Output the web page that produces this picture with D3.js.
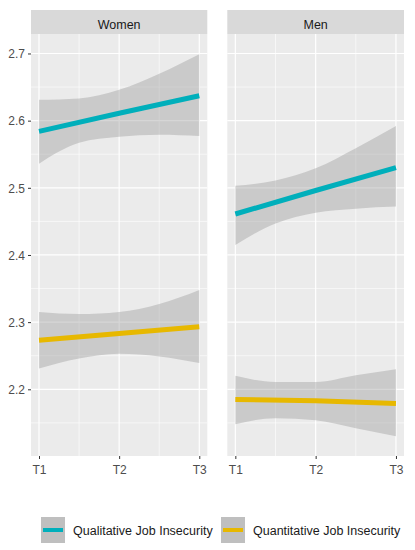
<!DOCTYPE html>
<html>
<head>
<meta charset="utf-8">
<script src="https://cdn.jsdelivr.net/npm/d3@7"></script>
<style>
body{margin:0;background:#fff;}
text{font-family:"Liberation Sans",Arial,sans-serif;}
</style>
</head>
<body>
<svg id="chart" width="415" height="550"></svg>
<script>
// ---- data ----
const panels = ["Women", "Men"];
const timeLabels = ["T1", "T2", "T3"];
const timeValues = [1, 2, 3];
const bandX = [1, 1.5, 2, 2.5, 3];
const seriesNames = ["Qualitative Job Insecurity", "Quantitative Job Insecurity"];
const seriesColors = ["#00AFBB", "#E7B800"];
const yTicks = [2.2, 2.3, 2.4, 2.5, 2.6, 2.7];
const yMinor = [2.15, 2.25, 2.35, 2.45, 2.55, 2.65];

const womenQualFit = [2.584, 2.611, 2.637];
const womenQuantFit = [2.273, 2.283, 2.293];
const menQualFit = [2.461, 2.496, 2.530];
const menQuantFit = [2.185, 2.183, 2.179];

const womenQualUpper = [2.631, 2.633, 2.646, 2.670, 2.699];
const womenQualLower = [2.536, 2.567, 2.576, 2.579, 2.577];
const womenQuantUpper = [2.315, 2.312, 2.315, 2.327, 2.348];
const womenQuantLower = [2.231, 2.246, 2.253, 2.249, 2.239];
const menQualUpper = [2.503, 2.511, 2.529, 2.559, 2.592];
const menQualLower = [2.415, 2.447, 2.463, 2.469, 2.472];
const menQuantUpper = [2.220, 2.211, 2.211, 2.221, 2.230];
const menQuantLower = [2.148, 2.157, 2.154, 2.142, 2.130];

const panelData = {
  Women: [
    {fit: womenQualFit, upper: womenQualUpper, lower: womenQualLower},
    {fit: womenQuantFit, upper: womenQuantUpper, lower: womenQuantLower}
  ],
  Men: [
    {fit: menQualFit, upper: menQualUpper, lower: menQualLower},
    {fit: menQuantFit, upper: menQuantUpper, lower: menQuantLower}
  ]
};

// ---- layout ----
const svg = d3.select("#chart");
const panelTop = 34, panelBottom = 456, stripTop = 10;
const panelX = [[31, 207.3], [227.3, 404]];

const y = d3.scaleLinear().domain([2.1007, 2.729]).range([panelBottom, panelTop]);

panels.forEach((p, pi) => {
  const [x0, x1] = panelX[pi];
  const x = d3.scaleLinear().domain([0.9, 3.1]).range([x0, x1]);
  const g = svg.append("g");
  // background
  g.append("rect").attr("x", x0).attr("y", panelTop).attr("width", x1 - x0).attr("height", panelBottom - panelTop).attr("fill", "#EBEBEB");
  // strip
  g.append("rect").attr("x", x0).attr("y", stripTop).attr("width", x1 - x0).attr("height", panelTop - stripTop).attr("fill", "#D9D9D9");
  g.append("text").attr("x", (x0 + x1) / 2).attr("y", 28.8).attr("text-anchor", "middle")
    .attr("font-size", 12.5).attr("fill", "#1A1A1A").text(p);
  // minor grid
  yMinor.forEach(v => g.append("line").attr("x1", x0).attr("x2", x1).attr("y1", y(v)).attr("y2", y(v)).attr("stroke", "#fff").attr("stroke-width", 0.6));
  [1.5, 2.5].forEach(v => g.append("line").attr("x1", x(v)).attr("x2", x(v)).attr("y1", panelTop).attr("y2", panelBottom).attr("stroke", "#fff").attr("stroke-width", 0.6));
  // major grid
  yTicks.forEach(v => g.append("line").attr("x1", x0).attr("x2", x1).attr("y1", y(v)).attr("y2", y(v)).attr("stroke", "#fff").attr("stroke-width", 1.2));
  timeValues.forEach(v => g.append("line").attr("x1", x(v)).attr("x2", x(v)).attr("y1", panelTop).attr("y2", panelBottom).attr("stroke", "#fff").attr("stroke-width", 1.2));

  // smooths
  const area = d3.area().x((d, i) => x(bandX[i])).y0(d => y(d[0])).y1(d => y(d[1])).curve(d3.curveMonotoneX);
  const line = d3.line().x((d, i) => x(timeValues[i])).y(d => y(d));
  panelData[p].forEach((s, si) => {
    const bandPts = s.lower.map((l, i) => [l, s.upper[i]]);
    g.append("path").attr("d", area(bandPts)).attr("fill", "#999999").attr("fill-opacity", 0.4);
    g.append("path").attr("d", line(s.fit)).attr("fill", "none").attr("stroke", seriesColors[si]).attr("stroke-width", 5);
  });

  // x axis
  const xa = svg.append("g").attr("transform", `translate(0,${panelBottom})`)
    .call(d3.axisBottom(x).tickValues(timeValues).tickFormat((d, i) => timeLabels[i]).tickSize(3).tickPadding(6.5));
  xa.select(".domain").remove();
  xa.selectAll(".tick line").attr("stroke", "#333333").attr("stroke-width", 1);
  xa.selectAll(".tick text").attr("font-size", 12).attr("fill", "#4D4D4D").attr("font-family", "Liberation Sans, Arial, sans-serif");

  if (pi === 0) {
    const ya = svg.append("g").attr("transform", `translate(${x0},0)`)
      .call(d3.axisLeft(y).tickValues(yTicks).tickFormat(d3.format(".1f")).tickSize(3).tickPadding(3));
    ya.select(".domain").remove();
    ya.selectAll(".tick line").attr("stroke", "#333333").attr("stroke-width", 1);
    ya.selectAll(".tick text").attr("font-size", 12).attr("dy", 4.3).attr("fill", "#4D4D4D").attr("font-family", "Liberation Sans, Arial, sans-serif");
  }
});

// ---- legend ----
const legendX = [41, 221];
seriesNames.forEach((name, i) => {
  const lg = svg.append("g").attr("transform", `translate(${legendX[i]},517)`);
  lg.append("rect").attr("width", 24).attr("height", 26).attr("fill", "#BFBFBF");
  lg.append("line").attr("x1", 2).attr("x2", 22).attr("y1", 13).attr("y2", 13).attr("stroke", seriesColors[i]).attr("stroke-width", 4);
  lg.append("text").attr("x", 32).attr("y", 17.6).attr("font-size", 12.5).attr("fill", "#1A1A1A").text(name);
});
</script>
</body>
</html>
